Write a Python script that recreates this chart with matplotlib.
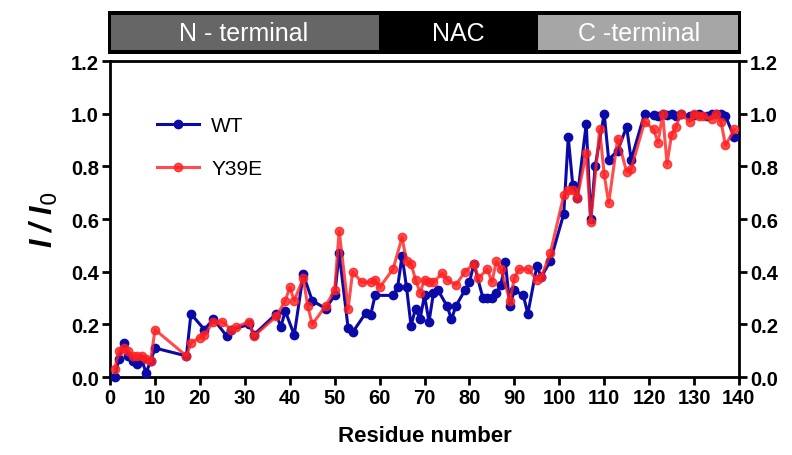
import matplotlib
matplotlib.use("Agg")
import matplotlib.pyplot as plt
from matplotlib.patches import Rectangle

plt.rcParams['font.family'] = ['Liberation Sans', 'DejaVu Sans']

# Residue positions and intensity ratios
wt_res = [1, 2, 3, 4, 5, 6, 7, 8, 9, 10, 17, 18, 21, 23, 26, 27, 31, 32, 37, 38,
          39, 41, 43, 45, 48, 50, 51, 53, 54, 57, 58, 59, 63, 64, 65, 66, 67, 68,
          69, 70, 71, 72, 73, 75, 76, 77, 79, 80, 81, 83, 84, 85, 86, 87, 88, 89,
          90, 92, 93, 95, 96, 98, 101, 102, 103, 104, 106, 107, 108, 110, 111,
          113, 115, 116, 119, 121, 122, 123, 124, 125, 126, 127, 129, 130, 131,
          133, 134, 135, 136, 137, 139]
wt_val = [0.00, 0.07, 0.13, 0.08, 0.06, 0.05, 0.07, 0.015, 0.06, 0.11, 0.08, 0.24,
          0.18, 0.22, 0.155, 0.18, 0.20, 0.16, 0.24, 0.19, 0.25, 0.16, 0.39, 0.29,
          0.26, 0.31, 0.47, 0.185, 0.17, 0.245, 0.235, 0.31, 0.31, 0.34, 0.46,
          0.34, 0.195, 0.26, 0.22, 0.31, 0.21, 0.32, 0.33, 0.27, 0.22, 0.27, 0.33,
          0.36, 0.43, 0.30, 0.30, 0.30, 0.32, 0.35, 0.435, 0.27, 0.33, 0.31, 0.24,
          0.42, 0.38, 0.44, 0.62, 0.91, 0.73, 0.68, 0.96, 0.60, 0.80, 1.00, 0.825,
          0.86, 0.95, 0.825, 1.00, 0.995, 0.99, 1.00, 0.995, 1.00, 0.99, 1.00,
          0.99, 0.995, 1.00, 0.99, 1.00, 1.00, 1.00, 0.99, 0.91]

mut_res = [1, 2, 3, 4, 5, 6, 7, 8, 9, 10, 17, 18, 20, 21, 23, 25, 27, 28, 31, 32,
           37, 39, 40, 41, 43, 44, 45, 48, 50, 51, 53, 54, 56, 58, 59, 60, 63, 65,
           66, 67, 68, 69, 70, 71, 72, 74, 75, 77, 79, 81, 82, 84, 85, 86, 87, 89,
           90, 91, 93, 95, 96, 98, 101, 102, 103, 104, 106, 107, 109, 110, 111,
           113, 115, 116, 119, 121, 122, 123, 124, 125, 126, 127, 129, 130, 131,
           132, 134, 135, 136, 137, 139]
mut_val = [0.03, 0.10, 0.11, 0.10, 0.08, 0.08, 0.08, 0.07, 0.06, 0.18, 0.08, 0.13,
           0.15, 0.16, 0.21, 0.21, 0.18, 0.19, 0.21, 0.155, 0.23, 0.29, 0.34, 0.29,
           0.375, 0.27, 0.20, 0.27, 0.33, 0.555, 0.26, 0.40, 0.36, 0.36, 0.37,
           0.34, 0.41, 0.53, 0.44, 0.43, 0.37, 0.32, 0.37, 0.36, 0.36, 0.395, 0.37,
           0.35, 0.40, 0.43, 0.375, 0.41, 0.36, 0.44, 0.41, 0.29, 0.375, 0.41,
           0.41, 0.37, 0.38, 0.47, 0.69, 0.71, 0.71, 0.68, 0.85, 0.59, 0.94, 0.77,
           0.66, 0.905, 0.78, 0.79, 0.97, 0.94, 0.89, 1.00, 0.81, 0.92, 0.95, 1.00,
           0.97, 1.00, 0.99, 0.99, 0.98, 1.00, 0.97, 0.88, 0.94]

domains = ["N - terminal", "NAC", "C -terminal"]
domain_bounds = [(0, 60), (60, 95), (95, 140)]
domain_colors = ["#666666", "#000000", "#a6a6a6"]

fig = plt.figure(figsize=(7.92, 4.56), dpi=100)
ax = fig.add_axes([0.139, 0.171, 0.794, 0.693])

ax.plot(wt_res, wt_val, color="#0a0aa8", lw=2.2, marker="o", ms=6,
        label="WT", clip_on=False, zorder=3)
ax.plot(mut_res, mut_val, color="#ff2020", lw=2.2, marker="o", ms=6,
        alpha=0.8, label="Y39E", clip_on=False, zorder=4)

ax.set_xlim(0, 140)
ax.set_ylim(0, 1.2)
ax.set_xticks(range(0, 141, 10))
ax.set_yticks([0, 0.2, 0.4, 0.6, 0.8, 1.0, 1.2])
ax.set_yticklabels(["0.0", "0.2", "0.4", "0.6", "0.8", "1.0", "1.2"])
ax.tick_params(axis="both", which="major", direction="out", length=6, width=2,
               labelsize=14.5, pad=2)
ax.tick_params(axis="y", right=True, labelright=True)
for lab in ax.get_xticklabels() + ax.get_yticklabels():
    lab.set_fontweight("bold")
for sp in ax.spines.values():
    sp.set_linewidth(2)

ax.set_xlabel("Residue number", fontsize=16, fontweight="bold", labelpad=13)
ax.set_ylabel("I / I$_0$", fontsize=22, fontweight="bold", fontstyle="italic",
              labelpad=8)

leg = ax.legend(loc="upper left", bbox_to_anchor=(0.045, 0.885), frameon=False,
                fontsize=15, handlelength=2.0, labelspacing=1.15,
                handletextpad=0.6)

# Domain bar above the plot
bar = fig.add_axes([0.136, 0.879, 0.800, 0.095])
bar.set_xlim(0, 140)
bar.set_ylim(0, 1)
bar.axis("off")
bar.add_patch(Rectangle((0, 0), 140, 1, facecolor="black", edgecolor="black"))
pad = 0.1
for name, (x0, x1), col in zip(domains, domain_bounds, domain_colors):
    l = x0 + (0.8 if x0 == 0 else 0)
    r = x1 - (0.8 if x1 == 140 else 0)
    bar.add_patch(Rectangle((l, pad), r - l, 1 - 2 * pad, facecolor=col,
                            edgecolor="none"))
    bar.text((x0 + x1) / 2, 0.5, name, color="white", fontsize=18,
             ha="center", va="center")

fig.savefig("out.png", dpi=100)
